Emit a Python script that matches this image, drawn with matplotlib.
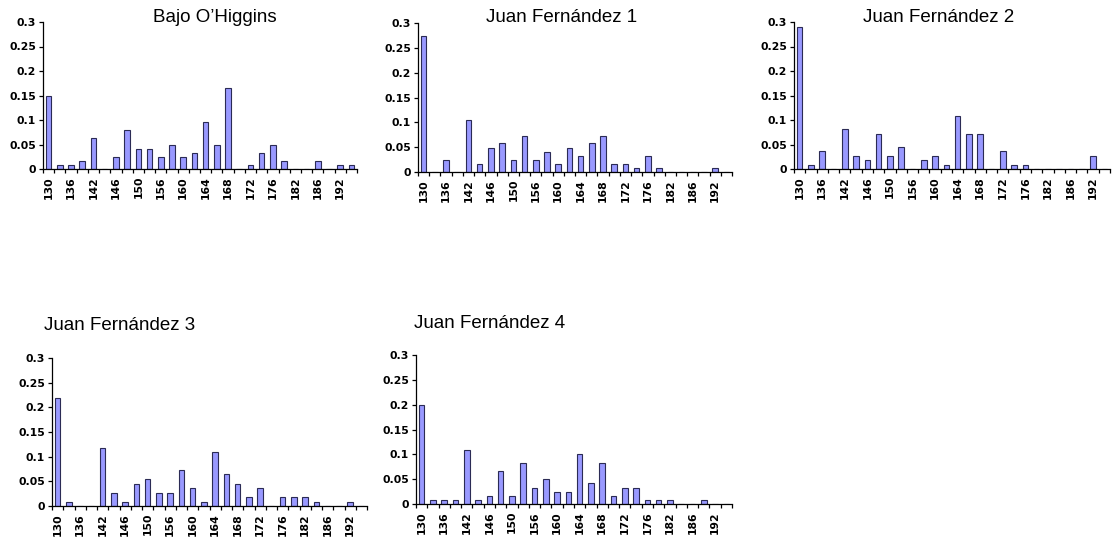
import matplotlib.pyplot as plt
import numpy as np

plt.rcParams['font.family'] = ['Liberation Sans', 'DejaVu Sans']

# allele size classes (every other one is labelled)
categories = ["130", "134", "136", "140", "142", "144", "146", "148", "150", "154",
              "156", "158", "160", "162", "164", "166", "168", "170", "172", "174",
              "176", "178", "182", "184", "186", "190", "192", "194"]

bajo_ohiggins = [0.15, 0.008, 0.008, 0.016, 0.064, 0, 0.024, 0.08, 0.04, 0.04,
                 0.024, 0.048, 0.024, 0.032, 0.095, 0.048, 0.166, 0, 0.008, 0.032,
                 0.048, 0.016, 0, 0, 0.016, 0, 0.008, 0.008]
juan_fernandez_1 = [0.274, 0, 0.025, 0, 0.105, 0.016, 0.049, 0.058, 0.025, 0.073,
                    0.025, 0.041, 0.016, 0.049, 0.033, 0.058, 0.073, 0.016, 0.016, 0.008,
                    0.033, 0.008, 0, 0, 0, 0, 0.008, 0]
juan_fernandez_2 = [0.29, 0.009, 0.036, 0, 0.081, 0.027, 0.018, 0.072, 0.027, 0.045,
                    0, 0.018, 0.027, 0.009, 0.109, 0.072, 0.072, 0, 0.036, 0.009,
                    0.009, 0, 0, 0, 0, 0, 0.027, 0]
juan_fernandez_3 = [0.218, 0.009, 0, 0, 0.118, 0.027, 0.009, 0.045, 0.055, 0.027,
                    0.027, 0.073, 0.036, 0.009, 0.109, 0.064, 0.045, 0.018, 0.036, 0,
                    0.018, 0.018, 0.018, 0.009, 0, 0, 0.009, 0]
juan_fernandez_4 = [0.2, 0.008, 0.008, 0.008, 0.108, 0.008, 0.017, 0.067, 0.017, 0.083,
                    0.033, 0.05, 0.025, 0.025, 0.1, 0.042, 0.083, 0.017, 0.033, 0.033,
                    0.008, 0.008, 0.008, 0, 0, 0.008, 0, 0]

W, H = 1112, 537
fig = plt.figure(figsize=(W / 100, H / 100), dpi=100)

# (left, top, right, bottom) in pixels, title (x, y) in pixels
panels = [
    ("Bajo O\u2019Higgins", bajo_ohiggins, (43, 22, 357, 169), (215, 18)),
    ("Juan Fern\u00e1ndez 1", juan_fernandez_1, (418, 23, 732, 172), (562, 18)),
    ("Juan Fern\u00e1ndez 2", juan_fernandez_2, (794, 22, 1110, 169), (939, 18)),
    ("Juan Fern\u00e1ndez 3", juan_fernandez_3, (52, 358, 367, 506), (120, 326)),
    ("Juan Fern\u00e1ndez 4", juan_fernandez_4, (416, 355, 732, 504), (490, 324)),
]

tick_font = dict(family="DejaVu Sans", fontsize=7.8, fontweight="bold")

x = np.arange(len(categories))
for title, vals, (l, t, r, b), (tx, ty) in panels:
    ax = fig.add_axes([l / W, 1 - b / H, (r - l) / W, (b - t) / H])
    ax.bar(x, vals, width=0.5, color="#9999ff", edgecolor="#2b2b55", linewidth=0.8)
    ax.set_xlim(-0.5, len(categories) - 0.5)
    ax.set_ylim(0, 0.3)
    ax.set_yticks(np.arange(0, 0.301, 0.05))
    ax.set_yticklabels(["0", "0.05", "0.1", "0.15", "0.2", "0.25", "0.3"], **tick_font)
    # tick marks at category boundaries, labels at every other centre
    ax.set_xticks(np.arange(-0.5, len(categories), 1))
    ax.set_xticklabels([])
    ax.set_xticks(x[::2], minor=True)
    ax.set_xticklabels(categories[::2], minor=True, rotation=90, **tick_font)
    ax.tick_params(axis="x", which="minor", length=0, pad=5)
    ax.tick_params(axis="both", which="major", length=3, width=0.9, direction="out")
    ax.tick_params(axis="y", pad=2)
    for s in ["top", "right"]:
        ax.spines[s].set_visible(False)
    ax.spines["left"].set_linewidth(0.9)
    ax.spines["bottom"].set_linewidth(0.9)
    fig.text(tx / W, 1 - ty / H, title, ha="center", va="center", fontsize=13.5)

plt.savefig("out.png", dpi=100)
